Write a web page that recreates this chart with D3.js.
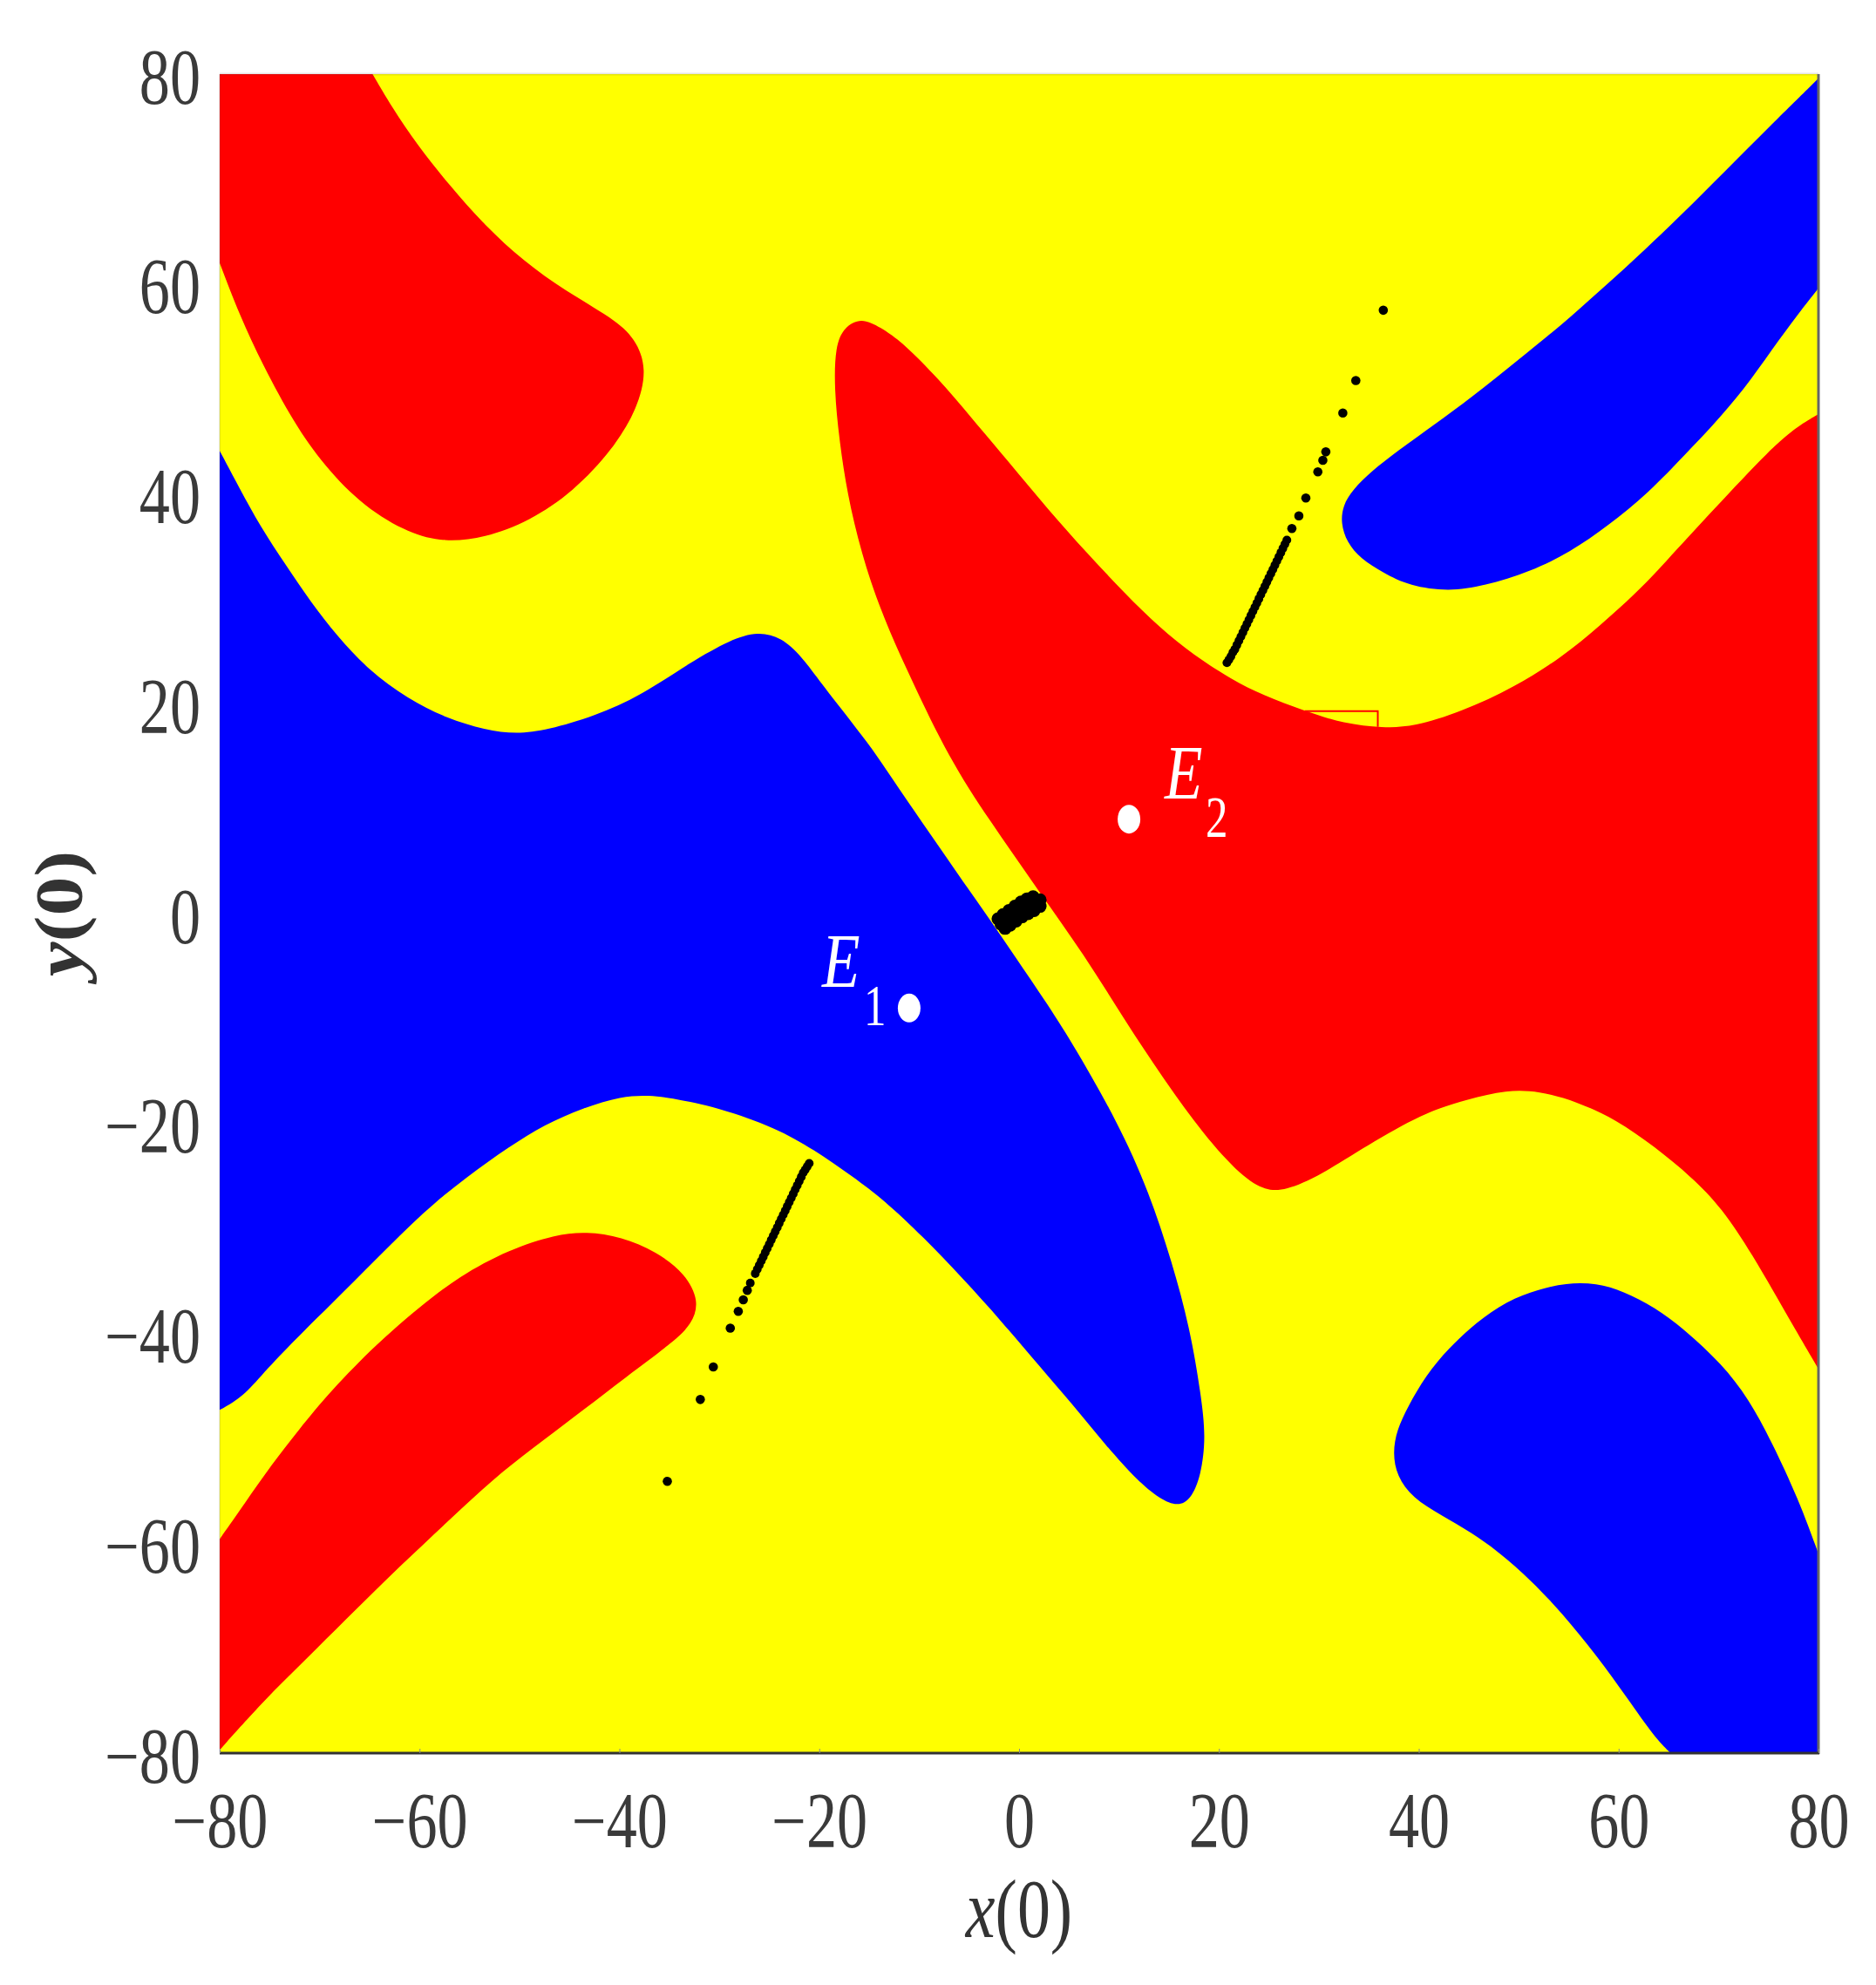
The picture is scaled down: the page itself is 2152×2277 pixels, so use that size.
<!DOCTYPE html>
<html><head><meta charset="utf-8">
<script src="https://cdnjs.cloudflare.com/ajax/libs/d3/7.8.5/d3.min.js"></script>
<style>html,body{margin:0;padding:0;background:#fff}svg{display:block}text{font-family:"Liberation Serif",serif}</style>
</head><body><svg id="c" width="2152" height="2277"></svg>
<script>
const xTicks=[-80,-60,-40,-20,0,20,40,60,80];
const yTicks=[-80,-60,-40,-20,0,20,40,60,80];
const xTickLabels=["−80","−60","−40","−20","0","20","40","60","80"];
const yTickLabels=["−80","−60","−40","−20","0","20","40","60","80"];

// Basin boundaries, in x(0), y(0) units.
const redTopLeft=[[[-64.7,80],[-62.8,76.9],[-60.2,73.2],[-57,69.4],[-53.5,65.6],[-49.5,62.1],[-45.5,59.4],[-40.6,56.7],[-38.4,54.8],[-37.2,51.9],[-38.2,48.1],[-40.6,44.3],[-44.6,40.2],[-49,37.4],[-53.5,35.8],[-57.5,35.4],[-61,36.2],[-65.5,38.7],[-69.5,42.6],[-72.6,46.8],[-75.7,52.3],[-78,57],[-80,62]],[[-80,80]]];
const redCentre=[[[80,-43.4],[76.5,-37.7],[73.4,-32.5],[70.3,-28],[67.3,-25.1],[63.6,-22.2],[59.7,-19.6],[55.8,-17.9],[52,-16.9],[48.8,-16.8],[44.9,-17.7],[41,-18.8],[35.6,-21.6],[30.1,-25],[26.6,-26.4],[24.7,-26.4],[22.3,-25.1],[18.4,-21],[14.5,-15.8],[10.6,-10.2],[6.5,-3.9],[2,2.1],[-3.05,9],[-7,14.8],[-10.8,22.3],[-13.9,28.9],[-15.8,34.4],[-17.2,40],[-18,45.2],[-18.5,50],[-18.4,54.1],[-17.5,55.9],[-15.8,56.8],[-13.9,55.9],[-11.6,54.4],[-8,50.9],[-4.9,47.4],[-1,43],[2.9,38.5],[6.75,34.4],[10.6,30.5],[14,27.3],[17.5,24.6],[21.3,22.3],[24.4,20.8],[28.6,19.3],[32.5,18.1],[36.4,17.7],[39.5,17.8],[44.2,19.2],[49.6,21.6],[54.3,24.4],[58.2,27.5],[61.7,30.5],[64.4,33.2],[69.5,38.5],[75.3,44.4],[78,46.5],[80,47.6]]];
const redBottomLeft=[[[-80,-59.6],[-77.5,-56.2],[-74.8,-52.5],[-72.1,-49.2],[-68.9,-45.5],[-64.3,-41],[-60,-37.5],[-56.1,-34.6],[-51,-32],[-46.4,-30.6],[-43.3,-30.3],[-39.8,-30.8],[-36.3,-32.2],[-33.4,-34.3],[-32,-36.9],[-32.7,-39.1],[-34.7,-40.9],[-39.4,-44.2],[-43.6,-47.3],[-47.5,-50.1],[-51.8,-53.2],[-55.7,-56.6],[-59.6,-60.1],[-63.5,-63.6],[-67.4,-67.3],[-71.3,-71],[-75.6,-75],[-80,-79.7]]];
const blueCentre=[[[-80,44.1],[-78,40.5],[-76,37],[-73.3,33.1],[-70.9,29.7],[-68.2,26.4],[-65.1,23.2],[-61.2,20.5],[-57.3,18.6],[-53.4,17.5],[-50.3,17.1],[-47.2,17.5],[-42.5,18.8],[-37.8,20.8],[-32.8,24],[-28.9,26.1],[-26.1,26.9],[-23.8,26.3],[-21.8,24.6],[-19.4,21.4],[-15,16.2],[-11.9,11.7],[-8.9,7.6],[-6,3.6],[-3.05,-0.4],[-0.25,-4.3],[2.6,-8.3],[5.2,-12.1],[9.9,-19.9],[13,-26.5],[15.3,-33.2],[17.1,-39.5],[18.2,-45.8],[18.7,-49.9],[18.2,-53.6],[17.2,-55.8],[15.9,-56.5],[14.1,-55.8],[11.8,-54],[8.7,-50.7],[5.2,-46.6],[2.1,-43.2],[-1.8,-38.8],[-5.7,-34.7],[-9.6,-30.8],[-13.5,-27.3],[-16.6,-25.1],[-20.5,-22.5],[-24.4,-20.4],[-30,-18.5],[-34.7,-17.6],[-37,-17.3],[-39.8,-17.4],[-43.6,-18.5],[-47.5,-20.1],[-51,-22.2],[-55.3,-25.1],[-59.6,-28.4],[-64.3,-32.9],[-68.9,-37.3],[-72.9,-41],[-76,-44.2],[-77.9,-46.2],[-80,-47.3]]];
const blueTopRight=[[[80,79.6],[75.3,75.2],[70.6,70.7],[66.4,66.7],[62.9,63.5],[58.2,59.4],[54.3,56.1],[50,52.8],[45.3,49.2],[41.4,46.5],[37.9,44.1],[35.2,42.1],[33.4,40.4],[32.4,38.9],[32.2,37.2],[32.8,35.4],[34.2,33.8],[36.4,32.5],[39.1,31.2],[43,30.7],[46.5,31.2],[51.2,32.6],[55.1,34.4],[59,37],[62.9,40],[66.8,43.9],[69.5,46.6],[72.6,50],[75.3,53.7],[78,57.2],[80,59.6]]];
const blueBottomRight=[[[80,-61],[78,-55.8],[75.3,-50.3],[73,-46.2],[70.3,-42.9],[66.7,-39.7],[63.6,-37.5],[60.5,-36],[57.8,-35.2],[54.7,-35.2],[52,-35.8],[48.8,-36.9],[45.7,-39],[43,-41.4],[40.7,-44],[38.9,-47],[37.8,-49.2],[37.4,-51.4],[37.8,-53.6],[39.4,-55.7],[42.2,-57.3],[45.3,-59],[48.1,-60.9],[51.2,-63.5],[54.3,-66.6],[57.8,-70.7],[60.9,-74.8],[63.6,-78.5],[65.2,-80]],[[80,-80]]];

// Initial conditions marked in black.
const upperDots=[[36.45,57.5],[33.7,50.8],[32.4,47.7],[30.7,44],[30.4,43.2],[29.9,42.1],[28.7,39.6],[28,37.9],[27.3,36.7],[26.8,35.6],[26.6,35.2],[26.4,34.8],[26.2,34.4],[26,34],[25.8,33.6],[25.6,33.2],[25.4,32.8],[25.2,32.4],[25,32],[24.8,31.6],[24.6,31.2],[24.4,30.8],[24.2,30.4],[24,30],[23.8,29.6],[23.6,29.2],[23.4,28.8],[23.2,28.4],[23,28],[22.8,27.6],[22.6,27.2],[22.4,26.8],[22.2,26.4],[22,26],[21.8,25.6],[21.6,25.2],[21.4,24.9],[21.2,24.5],[21,24.2],[20.8,23.9]];
const lowerDots=[[-35.2,-54.1],[-31.9,-46.3],[-30.6,-43.2],[-28.9,-39.5],[-28.1,-37.9],[-27.6,-36.8],[-27.2,-35.9],[-26.9,-35.2],[-26.4,-34.3],[-26.2,-33.9],[-26,-33.5],[-25.8,-33.1],[-25.6,-32.7],[-25.4,-32.3],[-25.2,-31.9],[-25,-31.5],[-24.8,-31.1],[-24.6,-30.7],[-24.4,-30.3],[-24.2,-29.9],[-24,-29.5],[-23.8,-29.1],[-23.6,-28.7],[-23.4,-28.3],[-23.2,-27.9],[-23,-27.5],[-22.8,-27.1],[-22.6,-26.7],[-22.4,-26.3],[-22.2,-25.9],[-22,-25.5],[-21.8,-25.1],[-21.6,-24.7],[-21.4,-24.4],[-21.2,-24.1],[-21,-23.8]];
const centreDots=[[-2.1,-0.5],[-1.6,-0.1],[-1,0.3],[-0.4,0.7],[0.2,1.1],[0.8,1.4],[1.4,1.6],[-1.8,-1],[-1.2,-0.6],[-0.6,-0.2],[0,0.2],[0.6,0.6],[1.2,0.9],[1.8,1.2],[2.1,1.3],[-1.4,-1.4],[-0.9,-1.1],[-0.3,-0.7],[0.3,-0.3],[0.9,0],[1.5,0.3],[2.1,0.7]];
const equilibria=[{name:"E",sub:"1",x:-11,y:-9},{name:"E",sub:"2",x:11,y:9}];
const boxCorners=[[28.6,19.3],[35.9,19.3],[35.9,17.8]];

const svg=d3.select("#c");
const L=252,R=2086,T=85,B=2011;
const x=d3.scaleLinear().domain([-80,80]).range([L,R]);
const y=d3.scaleLinear().domain([-80,80]).range([B,T]);
svg.append("defs").append("clipPath").attr("id","plot").append("rect")
  .attr("x",L).attr("y",T).attr("width",R-L).attr("height",B-T);
const g=svg.append("g").attr("clip-path","url(#plot)");
g.append("rect").attr("x",x(-80)).attr("y",y(80)).attr("width",x(80)-x(-80)).attr("height",y(-80)-y(80)).attr("fill","#ffff00");

const line=d3.line().x(d=>x(d[0])).y(d=>y(d[1])).curve(d3.curveBasis);
function region(arcs){
  return arcs.map((a,i)=>{
    const s=a.length>1?line(a):"M"+x(a[0][0])+","+y(a[0][1]);
    return i?"L"+s.slice(1):s;
  }).join("")+"Z";
}
[[redTopLeft,"#ff0000"],[redCentre,"#ff0000"],[redBottomLeft,"#ff0000"],
 [blueCentre,"#0000ff"],[blueTopRight,"#0000ff"],[blueBottomRight,"#0000ff"]].forEach(([a,c])=>{
  g.append("path").attr("d",region(a)).attr("fill",c);
});

g.append("path").attr("d",d3.line().x(d=>x(d[0])).y(d=>y(d[1]))(boxCorners))
  .attr("fill","none").attr("stroke","#ff0000").attr("stroke-width",2);

g.selectAll("circle.up").data(upperDots).join("circle").attr("class","up")
  .attr("cx",d=>x(d[0])).attr("cy",d=>y(d[1])).attr("r",(d,i)=>i<9?5.3:5).attr("fill","#000");
g.selectAll("circle.lo").data(lowerDots).join("circle").attr("class","lo")
  .attr("cx",d=>x(d[0])).attr("cy",d=>y(d[1])).attr("r",(d,i)=>i<7?5.3:5).attr("fill","#000");
g.selectAll("circle.ce").data(centreDots).join("circle").attr("class","ce")
  .attr("cx",d=>x(d[0])).attr("cy",d=>y(d[1])).attr("r",7.5).attr("fill","#000");

g.selectAll("ellipse.eq").data(equilibria).join("ellipse").attr("class","eq")
  .attr("cx",d=>x(d.x)).attr("cy",d=>y(d.y)).attr("rx",13).attr("ry",16.5).attr("fill","#fff");

// labels of the equilibria
const eOffset={ "1":{ex:-100,ey:-24,sx:-52,sy:20,ss:0.75}, "2":{ex:41,ey:-24,sx:88,sy:20,ss:0.75} };
equilibria.forEach(d=>{
  const o=eOffset[d.sub],px=x(d.x),py=y(d.y);
  svg.append("text").text(d.name).attr("transform",`translate(${px+o.ex},${py+o.ey}) scale(0.8,1)`)
    .attr("font-size",89).attr("font-style","italic").attr("fill","#fff");
  svg.append("text").text(d.sub).attr("transform",`translate(${px+o.sx},${py+o.sy}) scale(${o.ss},1)`)
    .attr("font-size",68).attr("fill","#fff");
});

// frame
const frame=svg.append("g").attr("fill","none");
frame.append("line").attr("x1",L).attr("x2",R).attr("y1",T).attr("y2",T).attr("stroke","#555").attr("stroke-opacity",0.15).attr("stroke-width",3);
frame.append("line").attr("x1",L).attr("x2",L).attr("y1",T).attr("y2",B).attr("stroke","#555").attr("stroke-opacity",0.15).attr("stroke-width",2);
frame.append("line").attr("x1",R).attr("x2",R).attr("y1",T).attr("y2",B+1).attr("stroke","#666").attr("stroke-width",3);
frame.append("line").attr("x1",L).attr("x2",R+1).attr("y1",B).attr("y2",B).attr("stroke","#333").attr("stroke-width",3);

// axes
const sx=0.78,fs=90;
const ax=svg.append("g").attr("transform",`translate(0,${B})`)
  .call(d3.axisBottom(x).tickValues(xTicks).tickFormat((d,i)=>xTickLabels[i]).tickSize(-5));
ax.select(".domain").remove();
ax.selectAll("line").attr("stroke","#888").attr("stroke-width",1);
ax.selectAll("text").attr("transform",`scale(${sx},1)`).attr("x",0).attr("y",108).attr("dy",0)
  .attr("font-size",fs).attr("font-family","Liberation Serif").attr("fill","#3a3a3a");
const ay=svg.append("g").attr("transform",`translate(${L},0)`)
  .call(d3.axisLeft(y).tickValues(yTicks).tickFormat((d,i)=>yTickLabels[i]).tickSize(0));
ay.select(".domain").remove();
ay.selectAll("text").attr("transform",`scale(${sx},1)`).attr("x",(230-L)/sx).attr("y",33).attr("dy",0)
  .attr("font-size",fs).attr("font-family","Liberation Serif").attr("fill","#3a3a3a");

// axis titles
const xt=svg.append("text").attr("transform","translate(1169,2222) scale(0.8,1)").attr("text-anchor","middle").attr("font-size",95).attr("fill","#333");
xt.append("tspan").attr("font-style","italic").text("x");
xt.append("tspan").text("(0)");
const yt=svg.append("text").attr("transform","translate(94,1048) rotate(-90) scale(1.15,1)").attr("text-anchor","middle").attr("font-size",78).attr("font-weight","bold").attr("fill","#333");
yt.append("tspan").attr("font-style","italic").text("y");
yt.append("tspan").text("(0)");
</script></body></html>
